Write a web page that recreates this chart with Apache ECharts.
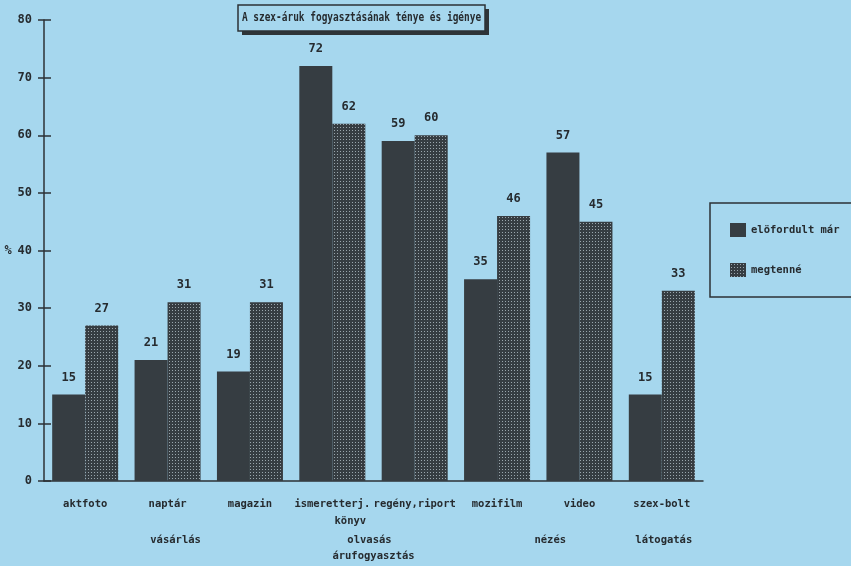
<!DOCTYPE html>
<html><head><meta charset="utf-8">
<script src="https://cdn.jsdelivr.net/npm/echarts@6/dist/echarts.min.js"></script>
<style>html,body{margin:0;padding:0;background:#a6d7ee;}#c{width:851px;height:566px;}</style>
</head><body><div id="c"></div>
<script>
const categories = ['aktfoto','naptár','magazin','ismeretterj.\nkönyv','regény,riport','mozifilm','video','szex-bolt'];
const seriesNames = ['elöfordult már','megtenné'];
const valuesDone = [15,21,19,72,59,35,57,15];
const valuesWould = [27,31,31,62,60,46,45,33];
const yTicks = [0,10,20,30,40,50,60,70,80];
const titleText = 'A szex-áruk fogyasztásának ténye és igénye';

const FONT = '"DejaVu Sans Mono", "Liberation Mono", monospace';
const DARK = '#363d42';
const TXT = '#262b2f';

function makePattern(){
  const c = document.createElement('canvas');
  c.width = 3; c.height = 3;
  const g = c.getContext('2d');
  g.fillStyle = DARK; g.fillRect(0,0,3,3);
  g.fillStyle = '#9aa6ad'; g.fillRect(1,1,1,1);
  return c;
}
const pattern = {image: makePattern(), repeat: 'repeat'};

const chart = echarts.init(document.getElementById('c'), null, {renderer:'canvas'});
const textStyleBase = {fontFamily: FONT, fontWeight: 'bold', fontSize: 12, color: TXT};

function catFormatter(v){
  const parts = v.split('\n');
  if (parts.length > 1) return parts[0] + '\n{k|' + parts[1] + '}';
  return v;
}

const option = {
  backgroundColor: '#a6d7ee',
  animation: false,
  grid: {left: 44, right: 148, top: 20, bottom: 85},
  legend: {
    orient: 'vertical', left: 710, top: 203,
    padding: [20, 60, 20, 20],
    icon: 'rect',
    itemWidth: 16, itemHeight: 14, itemGap: 26,
    borderColor: '#2c3236', borderWidth: 1.5,
    textStyle: {fontFamily: FONT, fontWeight: 'bold', fontSize: 10.5, color: TXT},
    data: seriesNames
  },
  xAxis: [{
    type: 'category', data: categories,
    axisLine: {lineStyle: {color: '#2c3236', width: 1.5}},
    axisTick: {length: 6, lineStyle: {color: '#2c3236', width: 1.5}},
    axisLabel: Object.assign({}, textStyleBase, {
      interval: 0, margin: 15, lineHeight: 17, fontSize: 10.5,
      formatter: catFormatter,
      rich: {k: {fontFamily: FONT, fontWeight: 'bold', fontSize: 10.5, color: TXT, padding: [0, 0, 0, 36]}}
    })
  },{
    type: 'category', data: categories, position: 'bottom',
    axisLine: {show: false},
    axisTick: {inside: true, length: 5, lineStyle: {color: '#2c3236', width: 1.5}},
    axisLabel: {show: false}
  }],
  yAxis: [{
    type: 'value', min: 0, max: 80, interval: 10,
    name: '%', nameLocation: 'middle', nameRotate: 0, nameGap: 30,
    nameTextStyle: {fontFamily: FONT, fontWeight: 'bold', fontSize: 12, color: TXT},
    splitLine: {show: false},
    axisLine: {show: true, lineStyle: {color: '#2c3236', width: 1.5}},
    axisTick: {show: true, length: 6, lineStyle: {color: '#2c3236', width: 1.5}},
    axisLabel: Object.assign({margin: 12, formatter: v => yTicks.includes(v) ? String(v) : ''}, textStyleBase)
  },{
    type: 'value', min: 0, max: 80, interval: 10, position: 'left',
    splitLine: {show: false},
    axisLine: {show: false},
    axisTick: {show: true, inside: true, length: 7, lineStyle: {color: '#2c3236', width: 1.5}},
    axisLabel: {show: false}
  }],
  series: [{
    name: seriesNames[0], type: 'bar', data: valuesDone,
    barWidth: 33, barGap: '0%',
    itemStyle: {color: DARK},
    label: Object.assign({show: true, position: 'top', distance: 11}, textStyleBase)
  },{
    name: seriesNames[1], type: 'bar', data: valuesWould,
    barWidth: 33, barGap: '0%',
    itemStyle: {color: pattern},
    label: Object.assign({show: true, position: 'top', distance: 11}, textStyleBase)
  }]
};
chart.setOption(option);

function cx(i){ return chart.convertToPixel({xAxisIndex: 0}, categories[i]); }
const gy = 540;
const groupLabels = [
  {text: 'vásárlás', x: cx(1) + 8, y: gy},
  {text: 'olvasás', x: (cx(3) + cx(4)) / 2 - 4, y: 540},
  {text: 'árufogyasztás', x: (cx(3) + cx(4)) / 2, y: 556},
  {text: 'nézés', x: (cx(5) + cx(6)) / 2 + 12, y: gy},
  {text: 'látogatás', x: cx(7) + 2, y: gy}
];
const graphics = groupLabels.map(g => ({
  type: 'text', x: g.x, y: g.y,
  style: {text: g.text, font: 'bold 10.5px ' + FONT, fill: TXT, textAlign: 'center', textVerticalAlign: 'middle'}
}));
// title box
graphics.push({type: 'rect', shape: {x: 242, y: 9, width: 247, height: 26}, style: {fill: '#2e3438'}});
graphics.push({type: 'rect', shape: {x: 238, y: 5, width: 247, height: 26}, style: {fill: '#a6d7ee', stroke: '#2c3236', lineWidth: 1.5}});
graphics.push({type: 'text', x: 361.5, y: 18, scaleX: 0.86, scaleY: 1.1, style: {text: titleText, font: 'bold 11px ' + FONT, fill: TXT, textAlign: 'center', textVerticalAlign: 'middle'}});
chart.setOption({graphic: graphics});
</script>
</body></html>
